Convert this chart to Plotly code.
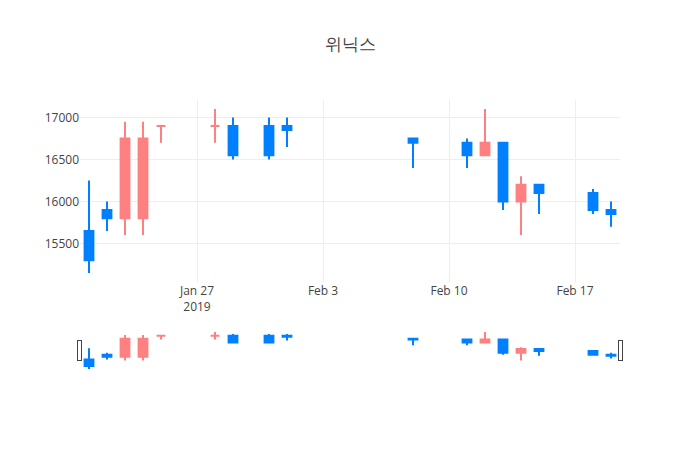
import plotly.graph_objects as go

dates = ["2019-01-21", "2019-01-22", "2019-01-23", "2019-01-24", "2019-01-25",
         "2019-01-28", "2019-01-29", "2019-01-31", "2019-02-01", "2019-02-08",
         "2019-02-11", "2019-02-12", "2019-02-13", "2019-02-14", "2019-02-15",
         "2019-02-18", "2019-02-19"]
open_ = [15650, 15900, 15800, 15800, 16900, 16900, 16900, 16900, 16900, 16750,
         16700, 16550, 16700, 16000, 16200, 16100, 15900]
high = [16250, 16000, 16950, 16950, 16900, 17100, 17000, 17000, 17000, 16750,
        16750, 17100, 16700, 16300, 16200, 16150, 16000]
low = [15150, 15650, 15600, 15600, 16700, 16700, 16500, 16500, 16650, 16400,
       16400, 16550, 15900, 15600, 15850, 15850, 15700]
close = [15300, 15800, 16750, 16750, 16900, 16900, 16550, 16550, 16850, 16700,
         16550, 16700, 16000, 16200, 16100, 15900, 15850]

up_color = "#FF8080"
down_color = "#0080FF"

fig = go.Figure(go.Candlestick(
    x=dates, open=open_, high=high, low=low, close=close,
    increasing=dict(line=dict(color=up_color), fillcolor=up_color),
    decreasing=dict(line=dict(color=down_color), fillcolor=down_color),
))
fig.update_layout(
    template="none",
    width=700, height=450,
    title=dict(text="위닉스", x=0.5),
    showlegend=False,
    xaxis=dict(rangeslider=dict(visible=True), gridcolor="#eee"),
    yaxis=dict(gridcolor="#eee", tickformat="d"),
)
fig.write_html("out.html")
